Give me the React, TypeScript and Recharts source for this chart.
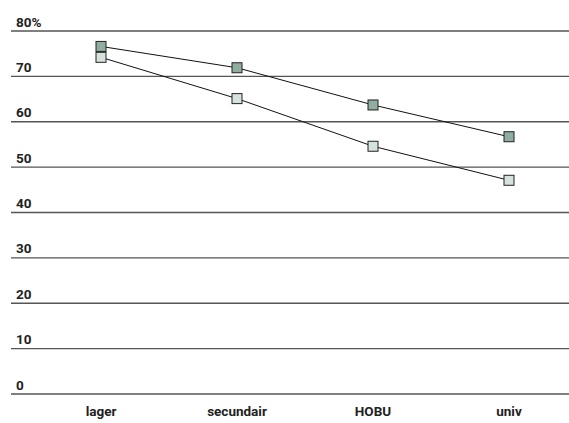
import { LineChart, Line, XAxis, YAxis, CartesianGrid } from "recharts";

const categories = ["lager", "secundair", "HOBU", "univ"];
const seriesDark = [76.6, 71.9, 63.7, 56.7];
const seriesLight = [74.2, 65.1, 54.6, 47.1];
const yTicks = [0, 10, 20, 30, 40, 50, 60, 70, 80];

const data = categories.map((c, i) => ({
  name: c,
  dark: seriesDark[i],
  light: seriesLight[i],
}));

const FONT = "Roboto, 'DejaVu Sans Condensed', sans-serif";

const squareDot = (fill: string) => (props: any) => {
  const { cx, cy, index } = props;
  if (cx == null || cy == null) return <g key={index} />;
  return (
    <rect
      key={index}
      x={cx - 5}
      y={cy - 5}
      width={10}
      height={10}
      fill={fill}
      stroke="#222"
      strokeWidth={1}
    />
  );
};

const YTick = (props: any) => {
  const { y, payload } = props;
  const label = payload.value === 80 ? "80%" : String(payload.value);
  return (
    <text x={16} y={y - 4.5} textAnchor="start" fontFamily={FONT} fontWeight="bold" fontSize={13.5} fill="#222">
      {label}
    </text>
  );
};

export default function App() {
  return (
    <div style={{ position: "absolute", left: 0, top: 0, background: "#fff" }}>
      <LineChart width={569} height={423} data={data} margin={{ top: 31, right: 0, bottom: 0, left: 10 }}>
        <CartesianGrid vertical={false} stroke="#555" strokeWidth={1.3} />
        <XAxis
          dataKey="name"
          height={29}
          axisLine={false}
          tickLine={false}
          padding={{ left: 90, right: 60 }}
          tickMargin={6}
          tick={{ fontFamily: FONT, fontWeight: "bold", fontSize: 13.5, fill: "#222" }}
          interval={0}
        />
        <YAxis
          domain={[0, 80]}
          ticks={yTicks}
          width={1}
          axisLine={false}
          tickLine={false}
          tick={<YTick />}
          interval={0}
        />
        <Line
          dataKey="light"
          stroke="#111"
          strokeWidth={1}
          dot={squareDot("#d6e2dc")}
          isAnimationActive={false}
        />
        <Line
          dataKey="dark"
          stroke="#111"
          strokeWidth={1}
          dot={squareDot("#8fae9f")}
          isAnimationActive={false}
        />
      </LineChart>
    </div>
  );
}
